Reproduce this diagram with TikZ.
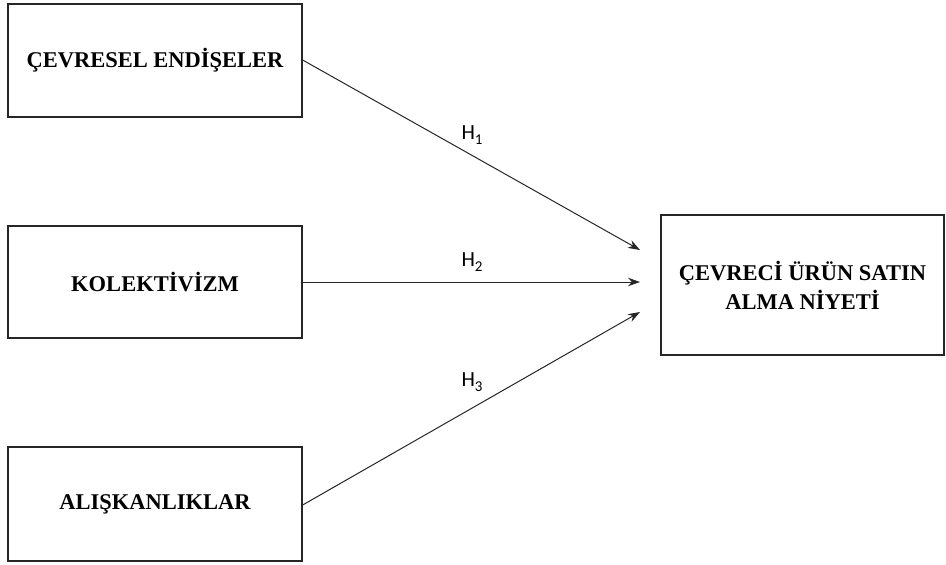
\documentclass[tikz,border=0pt]{standalone}
\usepackage{fontspec}
\setmainfont{Liberation Serif}
\newfontfamily\labelfont{Carlito}
\usetikzlibrary{arrows.meta}
\newcommand{\hsub}[1]{H\raisebox{-0.22em}{\fontsize{15}{15}\selectfont #1}}
\begin{document}
\begin{tikzpicture}[x=1pt,y=-1pt,
  box/.style={draw=black!85, line width=1.3pt, font=\bfseries\fontsize{22.5}{29}\selectfont, align=center, inner sep=0pt},
  conn/.style={draw=black!85, line width=1pt, -{Stealth[length=12pt,width=8.5pt]}},
  hlab/.style={font=\labelfont\fontsize{21.5}{24}\selectfont}]
\useasboundingbox (0,0) rectangle (946,565);
\node[box, minimum width=294pt, minimum height=113pt] (ce) at (155,60.5) {ÇEVRESEL ENDİŞELER};
\node[box, minimum width=294pt, minimum height=112pt] (ko) at (155,282) {KOLEKTİVİZM};
\node[box, minimum width=294pt, minimum height=114pt] (al) at (155,504) {ALIŞKANLIKLAR};
\node[box, minimum width=283pt, minimum height=140pt] (cu) at (802.5,285) {ÇEVRECİ ÜRÜN SATIN\\ALMA NİYETİ};
\coordinate (t1) at (640,250);
\coordinate (t2) at (640,282);
\coordinate (t3) at (640,312);
\draw[conn] (ce.east |- 0,60) -- (t1);
\draw[conn] (ko.east) -- (t2);
\draw[conn] (al.east |- 0,505) -- (t3);
\node[hlab] (h1) at (472,135) {\hsub{1}};
\node[hlab] (h2) at (472,262) {\hsub{2}};
\node[hlab] (h3) at (472,382) {\hsub{3}};
\end{tikzpicture}
\end{document}
